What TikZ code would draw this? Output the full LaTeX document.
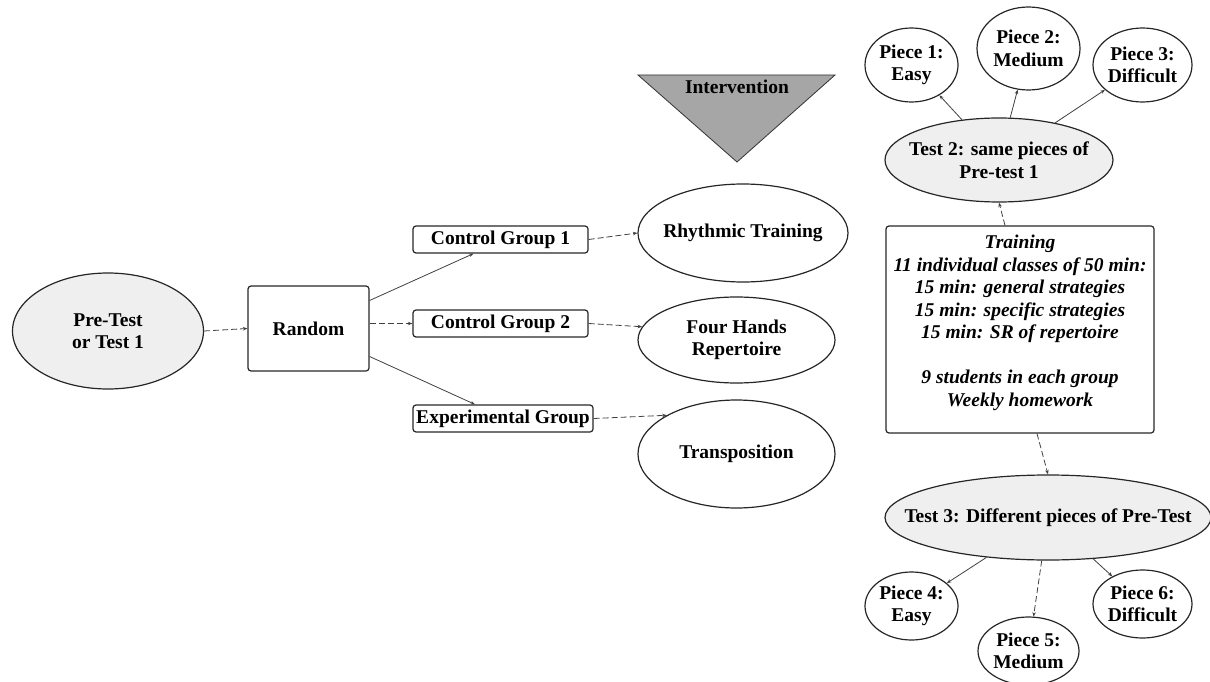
\documentclass[tikz,border=0pt]{standalone}
\usepackage{fontspec}
\setmainfont{Liberation Serif}
\usetikzlibrary{shapes.geometric,arrows.meta,calc}
\definecolor{lightfill}{HTML}{EFEFEF}
\definecolor{trifill}{HTML}{A6A6A6}
\tikzset{
  base/.style={font=\bfseries\fontsize{19.5}{22.5}\selectfont, align=center, inner sep=0pt, line width=1.2pt, draw=black!85},
  oval/.style={base, ellipse, inner sep=-60pt},
  grayoval/.style={oval, fill=lightfill},
  rbox/.style={base, rectangle, rounded corners=3pt},
  con/.style={line width=0.8pt, draw=black!75, -{Stealth[length=4.5pt,width=3.5pt]}},
  dcon/.style={con, dash pattern=on 6pt off 3pt},
}
\begin{document}
\begin{tikzpicture}[x=1pt,y=-1pt]
\useasboundingbox (0,0) rectangle (1210,682);
% left part
\node[grayoval, minimum width=191pt, minimum height=116pt] (pre) at (108,331) {Pre-Test\\or Test 1};
\node[rbox, minimum width=121pt, minimum height=85pt] (random) at (308.5,328.5) {Random};
\node[rbox, minimum width=175pt, minimum height=27pt] (cg1) at (500.5,239.5) {Control Group 1};
\node[rbox, minimum width=175pt, minimum height=27pt] (cg2) at (500.5,323.5) {Control Group 2};
\node[rbox, minimum width=180pt, minimum height=27pt] (exp) at (503,418.5) {Experimental Group};
\node[oval, minimum width=210pt, minimum height=98pt] (rhythm) at (743,233) {Rhythmic Training};
\node[oval, minimum width=197pt, minimum height=86pt] (four) at (736.5,340) {Four Hands\\Repertoire};
\node[oval, minimum width=197pt, minimum height=108pt] (trans) at (736.5,454) {Transposition};
% intervention triangle
\draw[line width=0.8pt, draw=black!80, fill=trifill] (638,75) -- (835,75) -- (737,162) -- cycle;
\node[font=\bfseries\fontsize{19.5}{22.5}\selectfont, inner sep=0pt] (interv) at (737,87) {Intervention};
% right part
\node[oval, minimum width=93pt, minimum height=74pt] (p1) at (911.5,65) {Piece 1:\\Easy};
\node[oval, minimum width=103pt, minimum height=83pt] (p2) at (1028.5,48.5) {Piece 2:\\Medium};
\node[oval, minimum width=99pt, minimum height=74pt] (p3) at (1142.5,65) {Piece 3:\\Difficult};
\node[grayoval, minimum width=228pt, minimum height=84pt] (test2) at (999,160) {Test 2: same pieces of\\Pre-test 1};
\node[rbox, minimum width=268pt, minimum height=207pt] (train) at (1020,329.5) {};
\node[font=\bfseries\itshape\fontsize{19.5}{22.5}\selectfont, align=center, inner sep=0pt] (traintext) at (1020,323) {Training\\11 individual classes of 50 min:\\15 min: general strategies\\15 min: specific strategies\\15 min: SR of repertoire\\[22.5pt]9 students in each group\\Weekly homework};
\node[grayoval, minimum width=326pt, minimum height=85pt] (test3) at (1048,517.5) {Test 3: Different pieces of Pre-Test};
\node[oval, minimum width=93pt, minimum height=68pt] (p4) at (911.5,606) {Piece 4:\\Easy};
\node[oval, minimum width=101pt, minimum height=68pt] (p5) at (1028.5,651) {Piece 5:\\Medium};
\node[oval, minimum width=99pt, minimum height=68pt] (p6) at (1142.5,604) {Piece 6:\\Difficult};
% connectors left
\draw[dcon] (pre.east) -- (random.west);
\draw[con] ($(random.east)+(0,-28)$) -- ($(cg1.south)+(-27,0)$);
\draw[dcon] (random.east |- cg2.west) -- (cg2.west);
\draw[con] ($(random.east)+(0,28)$) -- ($(exp.north)+(-28,0)$);
\draw[dcon] (cg1.east) -- (rhythm.west);
\draw[dcon] (cg2.east) -- (four.172);
\draw[dcon] (exp.east) -- (trans.151);
% connectors right
\draw[con] (test2) -- (p1);
\draw[con] (test2) -- (p2);
\draw[con] (test2) -- (p3);
\draw[dcon] ($(train.north)+(-15,0)$) -- (test2.south);
\draw[dcon] ($(train.south)+(17,0)$) -- (test3.north);
\draw[con] (test3) -- (p4);
\draw[dcon] (test3) -- (p5);
\draw[con] (test3) -- (p6);
\end{tikzpicture}
\end{document}
